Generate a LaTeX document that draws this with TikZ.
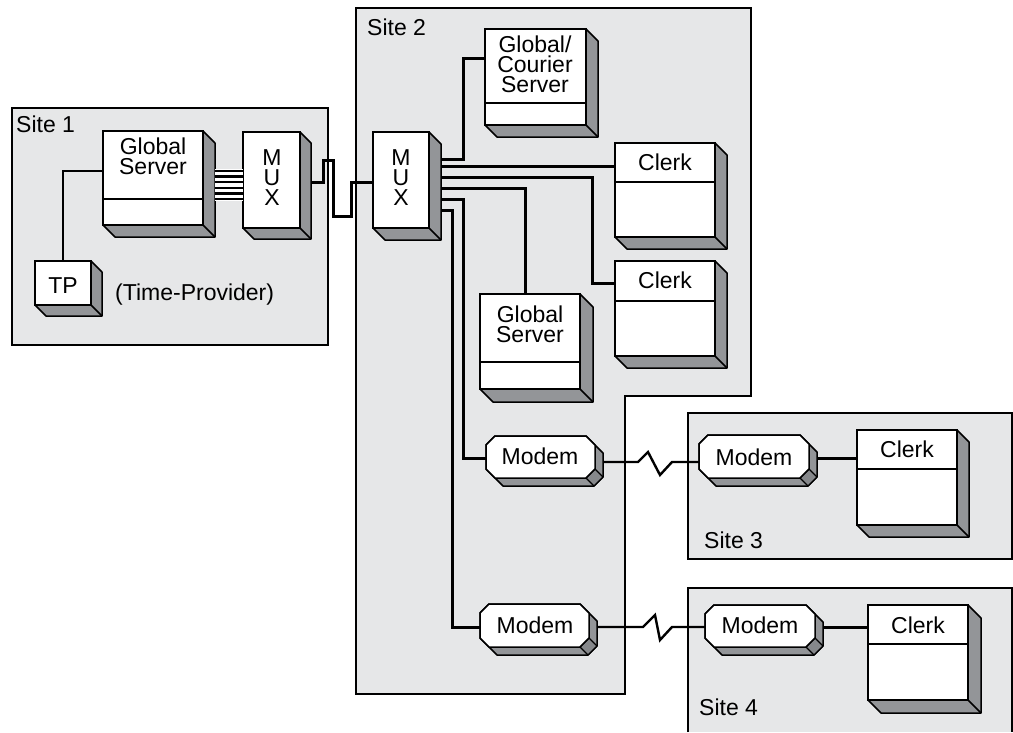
\documentclass[tikz,border=0pt]{standalone}
\usepackage{fontspec}
\setmainfont{Liberation Sans}
\usetikzlibrary{calc}
\definecolor{sitebg}{HTML}{E6E7E8}
\definecolor{sidegray}{HTML}{939598}
\definecolor{facetgray}{HTML}{86888B}
\tikzset{
 site/.style={fill=sitebg, draw=black, line width=1.1pt},
 edgeline/.style={draw=black, line width=1.5pt},
 sideface/.style={fill=sidegray, draw=black, line width=1.5pt, line join=round},
 facetface/.style={fill=facetgray, draw=black, line width=1.3pt, line join=round},
 frontface/.style={fill=white, draw=black, line width=1.5pt, rectangle, inner sep=0pt, outer sep=0pt},
 ghost/.style={rectangle, inner sep=0pt, outer sep=0pt},
 wire/.style={draw=black, line width=3pt, line join=miter},
 thinwire/.style={draw=black, line width=1.1pt},
 busline/.style={draw=black, line width=2.4pt},
 lbl/.style={font=\fontsize{23}{20}\selectfont, inner sep=0pt, align=center},
}
% name, x0, y0, x1, y1, depth, divider-y (may be empty)
\newcommand\drawcube[7]{%
 \pgfmathsetmacro\cxa{#2+#6}%
 \pgfmathsetmacro\cxb{#4+#6}%
 \pgfmathsetmacro\cya{#3+#6}%
 \pgfmathsetmacro\cyb{#5+#6}%
 \pgfmathsetmacro\cw{#4-#2}%
 \pgfmathsetmacro\ch{#5-#3}%
 \pgfmathsetmacro\cmx{(#2+#4)/2}%
 \pgfmathsetmacro\cmy{(#3+#5)/2}%
 \path[sideface] (#4,#3) -- (\cxb,\cya) -- (\cxb,\cyb) -- (\cxa,\cyb) -- (#2,#5) -- cycle;
 \draw[edgeline] (#4,#5) -- (\cxb,\cyb);
 \node[frontface, minimum width=\cw pt, minimum height=\ch pt] (#1) at (\cmx,\cmy) {};
 \ifx&#7&\else\draw[edgeline] (#2,#7) -- (#4,#7);\fi
}
% name, x0, y0, x1, y1
\newcommand\drawmodem[5]{%
 \def\mc{9}\def\md{8}%
 \pgfmathsetmacro\mxa{#2+\mc}%
 \pgfmathsetmacro\mxb{#4-\mc}%
 \pgfmathsetmacro\mya{#3+\mc}%
 \pgfmathsetmacro\myb{#5-\mc}%
 \pgfmathsetmacro\mqx{#4+\md}%
 \pgfmathsetmacro\mqya{#3+\mc+\md}%
 \pgfmathsetmacro\mqyb{#5-\mc+\md}%
 \pgfmathsetmacro\mqy{#5+\md}%
 \pgfmathsetmacro\mqxb{#4-\mc+\md}%
 \pgfmathsetmacro\mqxa{#2+\mc+\md}%
 \pgfmathsetmacro\cw{#4-#2}%
 \pgfmathsetmacro\ch{#5-#3}%
 \pgfmathsetmacro\cmx{(#2+#4)/2}%
 \pgfmathsetmacro\cmy{(#3+#5)/2}%
 \path[sideface] (#2,\mya) -- (\mxa,#3) -- (\mxb,#3) -- (\mqx,\mqya) -- (\mqx,\mqyb) -- (\mqxb,\mqy) -- (\mqxa,\mqy) -- (#2,\myb) -- cycle;
 \path[facetface] (#4,\myb) -- (\mxb,#5) -- (\mqxb,\mqy) -- (\mqx,\mqyb) -- cycle;
 \path[fill=white, draw=black, line width=1.5pt, line join=round] (#2,\mya) -- (\mxa,#3) -- (\mxb,#3) -- (#4,\mya) -- (#4,\myb) -- (\mxb,#5) -- (\mxa,#5) -- (#2,\myb) -- cycle;
 \node[ghost, minimum width=\cw pt, minimum height=\ch pt] (#1) at (\cmx,\cmy) {};
}
\begin{document}
\begin{tikzpicture}[x=1pt,y=-1pt]
\useasboundingbox (0,0) rectangle (1013,732);
% sites
\path[site] (12,108) rectangle (328,345);
\path[site] (356,8) -- (751,8) -- (751,396) -- (625,396) -- (625,694) -- (356,694) -- cycle;
\path[site] (688,413) rectangle (1012,559);
\fill[sitebg] (688,588) rectangle (1012,732);
\draw[line width=1.1pt] (688,732) -- (688,588) -- (1012,588) -- (1012,732);
\node[lbl, anchor=base west] (s1) at (16,132) {Site 1};
\node[lbl, anchor=base west] (s2) at (367,35) {Site 2};
\node[lbl, anchor=base west] (s3) at (704,548) {Site 3};
\node[lbl, anchor=base west] (s4) at (699,715) {Site 4};

% ---------- Site 1 ----------
\drawcube{gs1}{103}{131}{203}{225}{12}{199}
\drawcube{mux1}{243}{132}{300}{228}{11}{}
\drawcube{tp}{35}{261}{91}{305}{11}{}
\node[lbl] (gs1t) at (153,156.6) {Global\\Server};
\node[lbl] (mux1t) at (272,177.7) {M\\U\\X};
\node[lbl, anchor=base] (tpt) at (63,293) {TP};
\node[lbl, anchor=base west] (tpn) at (115,300) {(Time-Provider)};
% bus between global server and mux
\coordinate (busL) at (215,169);
\coordinate (busR) at (243,201);
\fill[white] (busL) rectangle (busR);
\foreach \yy in {171,176.6,182.2,187.8,193.4,199}{
  \draw[busline] (215,\yy) -- (mux1.west |- 0,\yy);
}
% TP link
\draw[thinwire] (tp.north) |- (gs1.west |- 0,171);

% ---------- Site 2 ----------
\drawcube{mux2}{373}{132}{429}{228}{12}{}
\drawcube{gcs}{485}{29}{586}{125}{12}{103}
\drawcube{clerk1}{615}{143}{715}{237}{12}{182}
\drawcube{clerk2}{615}{261}{715}{356}{12}{301}
\drawcube{gs2}{480}{294}{580}{389}{13}{362}
\drawmodem{modem1}{486}{436}{595}{478}
\drawmodem{modem2}{480}{604}{589}{647}
\node[lbl] (mux2t) at (401,177.7) {M\\U\\X};
\node[lbl] (gcst) at (535,64.6) {Global/\\Courier\\Server};
\node[lbl, anchor=base] (clerk1t) at (665,170) {Clerk};
\node[lbl, anchor=base] (clerk2t) at (665,288) {Clerk};
\node[lbl] (gs2t) at (530,324.6) {Global\\Server};
\node[lbl, anchor=base] (modem1t) at (540,464) {Modem};
\node[lbl, anchor=base] (modem2t) at (535,633) {Modem};

% ---------- Site 3 / 4 ----------
\drawmodem{modem3}{699}{435}{809}{478}
\drawcube{clerk3}{857}{430}{957}{525}{12}{469}
\drawmodem{modem4}{705}{605}{815}{647}
\drawcube{clerk4}{868}{605}{968}{700}{13}{644}
\node[lbl, anchor=base] (modem3t) at (754,465) {Modem};
\node[lbl, anchor=base] (clerk3t) at (907,457) {Clerk};
\node[lbl, anchor=base] (modem4t) at (760,633) {Modem};
\node[lbl, anchor=base] (clerk4t) at (918,633) {Clerk};

% ---------- wires ----------
\coordinate (mux1p) at (311,182);
\draw[wire] (mux1p) -- (323,182) -- (323,160) -- (333,160) -- (333,216) -- (351,216) -- (351,182) -- (mux2.west |- 0,182);
\coordinate (p1) at (441,159);
\coordinate (p2) at (441,166);
\coordinate (p3) at (441,177);
\coordinate (p4) at (441,188);
\coordinate (p5) at (441,199);
\coordinate (p6) at (441,210);
\draw[wire] (p1) -| (463,58) -- (gcs.west |- 0,58);
\draw[wire] (p2) -- (clerk1.west |- p2);
\draw[wire] (p3) -| (592,283) -- (clerk2.west |- 0,283);
\draw[wire] (p4) -| (gs2.north -| 525,0);
\draw[wire] (p5) -| (463,458) -- (modem1.west |- 0,458);
\draw[wire] (p6) -| (452,627) -- (modem2.west |- 0,627);
% WAN links
\coordinate (m1p) at (603,462);
\draw[wire, line width=2.4pt] (m1p) -- (638,462) -- (648,452) -- (660,475) -- (672,462) -- (modem3.west |- 0,462);
\coordinate (m2p) at (597,627);
\draw[wire, line width=2.4pt] (m2p) -- (643,627) -- (655,615) -- (660,640) -- (672,627) -- (modem4.west |- 0,627);
\coordinate (m3p) at (817,458);
\draw[wire] (m3p) -- (clerk3.west |- 0,458);
\coordinate (m4p) at (823,627);
\draw[wire] (m4p) -- (clerk4.west |- 0,627);
\end{tikzpicture}
\end{document}
